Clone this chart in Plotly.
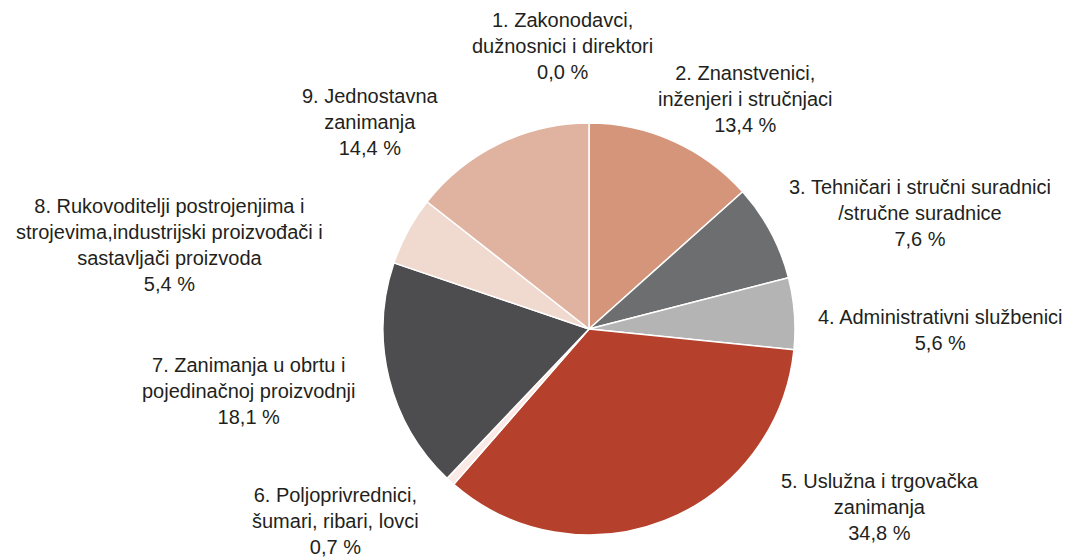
import plotly.graph_objects as go

categories = [
    "1. Zakonodavci,<br>dužnosnici i direktori",
    "2. Znanstvenici,<br>inženjeri i stručnjaci",
    "3. Tehničari i stručni suradnici<br>/stručne suradnice",
    "4. Administrativni službenici",
    "5. Uslužna i trgovačka<br>zanimanja",
    "6. Poljoprivrednici,<br>šumari, ribari, lovci",
    "7. Zanimanja u obrtu i<br>pojedinačnoj proizvodnji",
    "8. Rukovoditelji postrojenjima i<br>strojevima,industrijski proizvođači i<br>sastavljači proizvoda",
    "9. Jednostavna<br>zanimanja",
]
values = [0.0, 13.4, 7.6, 5.6, 34.8, 0.7, 18.1, 5.4, 14.4]
colors = ["#8C8C8C", "#D4957B", "#6D6E70", "#B4B4B5", "#B5402B",
          "#FBE9E5", "#4D4D4F", "#F0DAD0", "#E0B2A0"]

# label centre positions (px) for the annotation layout
label_pos = [(562, 46), (745, 99), (920, 213), (940, 330), (880, 507),
             (335, 521), (249, 391), (169, 245), (370, 122)]

W, H = 1068, 557
cx, cy, r = 589, 329, 206

fig = go.Figure(go.Pie(
    values=values,
    labels=[c.replace("<br>", " ") for c in categories],
    marker=dict(colors=colors, line=dict(color="white", width=1.5)),
    sort=False,
    direction="clockwise",
    rotation=0,
    textinfo="none",
    hoverinfo="label+percent",
    showlegend=False,
    domain=dict(x=[(cx - r) / W, (cx + r) / W], y=[(H - cy - r) / H, (H - cy + r) / H]),
))

for cat, v, (x, y) in zip(categories, values, label_pos):
    pct = f"{v:.1f}".replace(".", ",") + " %"
    fig.add_annotation(
        x=x / W, y=1 - y / H, xref="paper", yref="paper",
        text=f"{cat}<br>{pct}",
        showarrow=False, xanchor="center", yanchor="middle", align="center",
        font=dict(family="Liberation Sans, Arial, sans-serif", size=20, color="#231F20"),
    )

fig.update_layout(
    width=W, height=H,
    margin=dict(l=0, r=0, t=0, b=0),
    paper_bgcolor="white", plot_bgcolor="white",
)
fig.write_html("out.html", config={"displayModeBar": False},
               post_script="document.body.style.margin='0';")
